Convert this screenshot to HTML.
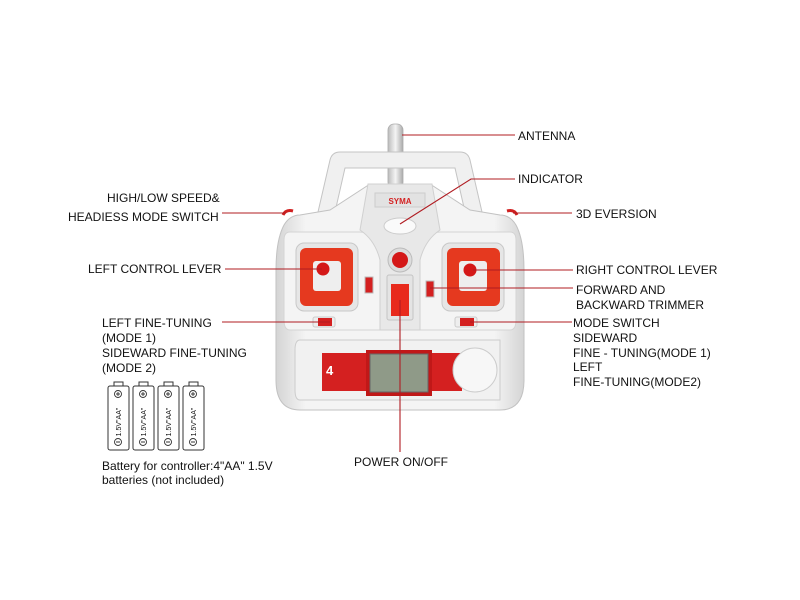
<!DOCTYPE html>
<html><head><meta charset="utf-8"><style>
html,body{margin:0;padding:0;background:#fff;}
svg{display:block;}
text{font-family:"Liberation Sans",sans-serif;font-size:12px;fill:#111;}
</style></head><body>
<svg width="800" height="600" viewBox="0 0 800 600" xmlns="http://www.w3.org/2000/svg">
<defs>
<linearGradient id="bg" x1="0" y1="0" x2="1" y2="0">
<stop offset="0" stop-color="#d4d4d4"/><stop offset="0.12" stop-color="#f4f4f4"/><stop offset="0.88" stop-color="#f4f4f4"/><stop offset="1" stop-color="#d4d4d4"/></linearGradient>
<linearGradient id="ant" x1="0" y1="0" x2="1" y2="0"><stop offset="0" stop-color="#bbb"/><stop offset="0.5" stop-color="#f4f4f4"/><stop offset="1" stop-color="#aaa"/></linearGradient>
</defs>
<rect x="388" y="124" width="15" height="64" rx="6" fill="url(#ant)" stroke="#aaa" stroke-width="0.8"/>
<path d="M318 212 L330 160 Q332 152 340 152 L460 152 Q468 152 470 160 L482 212 L465 212 L455 168 L345 168 L335 212 Z" fill="#f0f0f0" stroke="#c4c4c4" stroke-width="1"/>
<path d="M300 215 Q290 215 284 225 Q276 240 276 270 L276 380 Q276 410 300 410 L500 410 Q524 410 524 380 L524 270 Q524 240 516 225 Q510 215 500 215 L470 210 L430 184 L370 184 L330 210 Z" fill="url(#bg)" stroke="#c2c2c2" stroke-width="1"/>
<path d="M290 232 L360 232 Q380 232 380 260 L380 330 L290 330 Q284 330 284 320 L284 240 Q284 232 290 232Z" fill="#f4f4f4" stroke="#d4d4d4"/>
<path d="M510 232 L440 232 Q420 232 420 260 L420 330 L510 330 Q516 330 516 320 L516 240 Q516 232 510 232Z" fill="#f4f4f4" stroke="#d4d4d4"/>
<path d="M368 184 L432 184 L440 230 Q425 240 420 260 L420 330 L380 330 L380 260 Q375 240 360 230Z" fill="#e8e8e8" stroke="#d0d0d0"/>
<rect x="375" y="193" width="50" height="14" fill="#e2e2e2" stroke="#ccc"/>
<text x="400" y="204" text-anchor="middle" style="font-size:8px;font-weight:bold;fill:#d42020">SYMA</text>
<ellipse cx="400" cy="226" rx="16" ry="8" fill="#fafafa" stroke="#ccc"/>
<path d="M283 215 q3 -6 10 -4" stroke="#d02020" stroke-width="3" fill="none"/>
<path d="M517 215 q-3 -6 -10 -4" stroke="#d02020" stroke-width="3" fill="none"/>
<rect x="296" y="243" width="62" height="68" rx="8" fill="#e6e6e6" stroke="#c8c8c8"/>
<rect x="300" y="248" width="53" height="58" rx="6" fill="#e5391f"/>
<rect x="313" y="261" width="28" height="30" rx="3" fill="#eee"/>
<circle cx="323" cy="269" r="6.5" fill="#d41818"/>
<rect x="442" y="243" width="62" height="68" rx="8" fill="#e6e6e6" stroke="#c8c8c8"/>
<rect x="447" y="248" width="53" height="58" rx="6" fill="#e5391f"/>
<rect x="459" y="261" width="28" height="30" rx="3" fill="#eee"/>
<circle cx="470" cy="270" r="6.5" fill="#d41818"/>
<rect x="365" y="277" width="8" height="16" fill="#d42020" stroke="#bbb"/>
<rect x="426" y="281" width="8" height="16" fill="#d42020" stroke="#bbb"/>
<rect x="313" y="317" width="22" height="10" rx="2" fill="#eee" stroke="#ccc"/>
<rect x="318" y="318" width="14" height="8" fill="#d42020"/>
<rect x="455" y="317" width="22" height="10" rx="2" fill="#eee" stroke="#ccc"/>
<rect x="460" y="318" width="14" height="8" fill="#d42020"/>
<circle cx="400" cy="260" r="12" fill="#ddd" stroke="#bbb"/>
<circle cx="400" cy="260" r="8" fill="#d41818"/>
<rect x="387" y="275" width="26" height="45" rx="2" fill="#e4e4e4" stroke="#c4c4c4"/>
<rect x="391" y="284" width="18" height="32" fill="#e82a1c"/>
<path d="M300 340 L500 340 L500 400 L300 400 Q295 400 295 390 L295 350 Q295 340 300 340Z" fill="#f1f1f1" stroke="#ccc"/>
<rect x="322" y="353" width="140" height="38" fill="#d42020"/>
<rect x="366" y="350" width="66" height="46" fill="#c01818"/>
<rect x="370" y="354" width="58" height="38" fill="#8f9a88" stroke="#666"/>
<text x="326" y="375" style="font-size:13px;font-weight:bold;fill:#fff">4</text>
<circle cx="475" cy="370" r="22" fill="#f7f7f7" stroke="#ccc"/>
<g stroke="#b01c22" stroke-width="1.1" fill="none">
<line x1="402" y1="135" x2="515" y2="135"/>
<polyline points="515,179 471,179 400,224"/>
<line x1="222" y1="213" x2="286" y2="213"/>
<line x1="513" y1="213" x2="572" y2="213"/>
<line x1="225" y1="269" x2="322" y2="269"/>
<line x1="473" y1="270" x2="573" y2="270"/>
<line x1="430" y1="288" x2="573" y2="288"/>
<line x1="222" y1="322" x2="330" y2="322"/>
<line x1="470" y1="322" x2="572" y2="322"/>
<line x1="400" y1="300" x2="400" y2="452"/>
</g>
<text x="518" y="140">ANTENNA</text>
<text x="518" y="183">INDICATOR</text>
<text x="107" y="202">HIGH/LOW SPEED&amp;</text>
<text x="68" y="221">HEADIESS MODE SWITCH</text>
<text x="576" y="218">3D EVERSION</text>
<text x="88" y="273">LEFT CONTROL LEVER</text>
<text x="576" y="274">RIGHT CONTROL LEVER</text>
<text x="576" y="294">FORWARD AND</text>
<text x="576" y="309">BACKWARD TRIMMER</text>
<text x="102" y="327">LEFT FINE-TUNING</text>
<text x="102" y="342">(MODE 1)</text>
<text x="102" y="357">SIDEWARD FINE-TUNING</text>
<text x="102" y="372">(MODE 2)</text>
<text x="573" y="327">MODE SWITCH</text>
<text x="573" y="342">SIDEWARD</text>
<text x="573" y="357">FINE - TUNING(MODE 1)</text>
<text x="573" y="371">LEFT</text>
<text x="573" y="386">FINE-TUNING(MODE2)</text>
<text x="354" y="466">POWER ON/OFF</text>
<g stroke="#333" stroke-width="1" fill="#fff">
<rect x="108" y="386" width="21" height="64" rx="2"/><rect x="114" y="382" width="9" height="4"/>
<rect x="133" y="386" width="21" height="64" rx="2"/><rect x="139" y="382" width="9" height="4"/>
<rect x="158" y="386" width="21" height="64" rx="2"/><rect x="164" y="382" width="9" height="4"/>
<rect x="183" y="386" width="21" height="64" rx="2"/><rect x="189" y="382" width="9" height="4"/>
</g>
<text transform="translate(121,422) rotate(-90)" text-anchor="middle" style="font-size:7px">1.5V"AA"</text>
<text transform="translate(146,422) rotate(-90)" text-anchor="middle" style="font-size:7px">1.5V"AA"</text>
<text transform="translate(171,422) rotate(-90)" text-anchor="middle" style="font-size:7px">1.5V"AA"</text>
<text transform="translate(196,422) rotate(-90)" text-anchor="middle" style="font-size:7px">1.5V"AA"</text>
<g fill="none" stroke="#333" stroke-width="0.9">
<circle cx="118" cy="394" r="3.5"/><circle cx="118" cy="442" r="3.5"/>
<circle cx="143" cy="394" r="3.5"/><circle cx="143" cy="442" r="3.5"/>
<circle cx="168" cy="394" r="3.5"/><circle cx="168" cy="442" r="3.5"/>
<circle cx="193" cy="394" r="3.5"/><circle cx="193" cy="442" r="3.5"/>
<path d="M116 394h4M118 392v4M141 394h4M143 392v4M166 394h4M168 392v4M191 394h4M193 392v4"/>
<path d="M116 442h4M141 442h4M166 442h4M191 442h4"/>
</g>
<text x="102" y="470">Battery for controller:4"AA" 1.5V</text>
<text x="102" y="484">batteries (not included)</text>
</svg>
</body></html>
